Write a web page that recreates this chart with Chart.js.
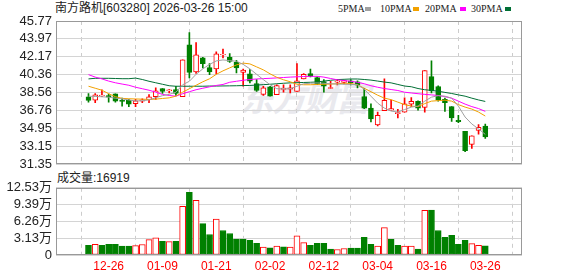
<!DOCTYPE html>
<html>
<head>
<meta charset="utf-8">
<script src="https://cdn.jsdelivr.net/npm/chart.js@4.4.1/dist/chart.umd.min.js"></script>
<style>
  body { margin: 0; background: #fff; width: 578px; height: 276px; overflow: hidden; position: relative;
         font-family: "Liberation Sans", "Noto Sans CJK SC", sans-serif; }
  .txt { position: absolute; white-space: nowrap; color: #222; }
  #title { left: 55px; top: 1px; font-size: 12px; line-height: 14px; }
  #volTitle { left: 57px; top: 171px; font-size: 12px; line-height: 14px; }
  .lg { position: absolute; top: 3px; font-family: "Liberation Serif", serif; font-size: 10px; line-height: 12px; color: #222; }
  .sq { position: absolute; top: 7px; width: 6px; height: 4px; }
  #mark { position: absolute; left: 240px; top: 72px; font-size: 34px; font-weight: bold; font-style: italic;
          color: #e9e9ee; font-family: "Noto Sans CJK SC", sans-serif; letter-spacing: -2px; }
  canvas { position: absolute; left: 0; }
  #priceChart { top: 0; }
  #volChart { top: 176px; }
</style>
</head>
<body>
<div id="mark">东方财富</div>
<div class="txt" id="title">南方路机[603280] 2026-03-26 15:00</div>
<span class="lg" style="left:338px">5PMA</span><span class="sq" style="left:365px;background:#a0a0a0"></span>
<span class="lg" style="left:380px">10PMA</span><span class="sq" style="left:413px;background:#f2a100"></span>
<span class="lg" style="left:425px">20PMA</span><span class="sq" style="left:460px;background:#ff00ff"></span>
<span class="lg" style="left:471px">30PMA</span><span class="sq" style="left:505px;background:#006f35"></span>
<div class="txt" id="volTitle">成交量:16919</div>
<canvas id="priceChart" width="578" height="176"></canvas>
<canvas id="volChart" width="578" height="100"></canvas>
<script>
// trading days shown
const dates = ['12-23','12-24','12-25','12-26','12-29','12-30','12-31','01-05','01-06','01-07',
  '01-08','01-09','01-12','01-13','01-14','01-15','01-16','01-19','01-20','01-21',
  '01-22','01-23','01-26','01-27','01-28','01-29','01-30','02-02','02-03','02-04',
  '02-05','02-06','02-09','02-10','02-11','02-12','02-13','02-24','02-25','02-26',
  '02-27','03-02','03-03','03-04','03-05','03-06','03-09','03-10','03-11','03-12',
  '03-13','03-16','03-17','03-18','03-19','03-20','03-23','03-24','03-25','03-26'];

const openP = [38.14,37.80,38.25,38.27,38.44,37.77,37.77,37.44,37.70,37.84,
  38.14,38.97,38.74,38.87,38.14,43.37,40.63,42.07,41.07,40.94,
  42.35,42.10,41.60,40.60,40.45,39.47,38.37,39.14,38.34,38.87,
  38.90,38.67,39.94,40.47,40.07,39.67,38.97,39.60,39.58,39.74,
  39.64,38.17,37.00,35.30,36.74,36.80,36.44,36.60,37.40,37.67,
  37.07,40.17,39.17,37.87,37.14,35.77,34.67,33.34,34.74,35.20];
const closeP = [37.77,38.34,38.32,38.10,37.70,37.68,37.40,37.74,37.84,38.14,
  38.74,38.67,38.84,38.47,41.86,40.60,42.37,41.47,40.64,42.47,
  42.42,41.70,41.04,40.84,39.70,38.77,39.04,38.20,39.27,39.00,
  39.04,39.74,40.40,40.20,39.44,39.20,39.07,39.74,39.76,39.54,
  39.30,37.00,35.90,36.27,37.77,36.94,36.54,37.44,37.67,37.00,
  40.77,38.74,37.80,37.54,36.00,35.64,32.70,34.20,35.07,34.10];
const highP = [38.47,38.47,38.84,38.40,38.44,38.00,37.87,37.87,37.94,38.37,
  39.04,38.97,38.87,39.20,41.86,44.60,43.60,42.10,41.47,42.67,
  42.95,42.50,41.80,40.94,40.87,39.87,39.20,39.20,39.34,39.34,
  39.34,41.47,40.47,40.94,40.14,39.87,39.70,39.87,39.80,39.87,
  39.74,39.00,37.44,36.60,39.94,37.80,36.87,38.04,38.07,37.74,
  40.77,41.77,39.24,38.00,37.14,36.27,34.67,34.20,35.34,35.40];
const lowP = [37.60,37.54,38.14,37.60,37.60,37.20,37.14,37.14,37.54,37.54,
  37.87,38.47,38.54,38.27,38.14,40.04,40.50,41.04,40.37,40.44,
  42.04,41.60,40.54,39.20,39.54,38.67,38.27,38.20,38.34,38.60,
  38.54,38.67,39.94,40.14,39.37,38.60,38.97,39.34,39.44,39.34,
  39.04,36.94,35.60,35.20,36.74,36.80,36.00,36.60,37.14,36.80,
  36.60,38.54,37.70,36.67,35.67,35.54,32.60,32.94,34.37,33.94];

// volume in 万手
const volume = [1.82,2.00,1.82,2.00,2.00,1.64,1.64,1.76,1.95,2.86,
  3.22,2.55,2.49,2.55,9.06,11.67,10.21,5.84,3.83,6.69,
  4.56,4.01,2.98,2.98,2.74,2.19,1.46,1.34,1.64,1.52,
  1.46,3.59,2.31,1.82,2.19,2.19,1.09,1.03,1.22,1.28,
  1.28,3.28,2.00,1.64,5.10,2.92,1.82,1.64,1.64,1.09,
  8.33,8.39,4.56,3.28,3.65,2.00,2.74,2.13,1.82,1.69];

// moving averages
const ma5 = [38.20,38.17,38.14,38.10,38.00,37.93,37.82,37.72,37.74,37.82,
  38.05,38.25,38.38,38.60,39.35,39.70,40.40,40.95,41.40,41.75,
  41.85,41.78,41.72,41.40,40.95,40.40,39.87,39.35,38.95,38.93,
  38.95,39.20,39.45,39.50,39.53,39.50,39.45,39.42,39.40,39.38,
  39.36,38.90,38.20,37.50,37.00,36.70,36.60,36.85,37.10,37.20,
  37.70,38.10,38.25,38.20,38.00,37.20,36.10,35.40,34.90,34.35];
const ma10 = [39.20,39.00,38.80,38.45,38.15,37.98,37.94,37.92,37.90,37.87,
  37.90,37.97,38.03,38.20,38.60,38.95,39.30,39.65,39.95,40.40,
  40.75,41.05,41.35,41.53,41.45,41.15,40.85,40.45,40.10,39.85,
  39.65,39.40,39.35,39.35,39.38,39.40,39.42,39.45,39.50,39.48,
  39.35,39.00,38.65,38.30,38.00,37.85,37.60,37.35,37.20,37.15,
  37.45,37.70,37.75,37.80,37.70,37.35,37.10,36.90,36.60,36.20];
const ma20 = [40.37,40.12,39.94,39.72,39.55,39.42,39.30,39.10,38.95,38.80,
  38.60,38.38,38.27,38.20,38.45,38.65,38.85,39.00,39.14,39.28,
  39.38,39.60,39.70,39.80,39.88,39.93,39.97,40.00,40.04,40.08,
  40.12,40.15,40.18,40.20,40.20,40.12,39.98,39.85,39.77,39.70,
  39.60,39.45,39.25,39.10,38.97,38.87,38.77,38.60,38.52,38.45,
  38.38,38.33,38.27,38.15,38.00,37.70,37.40,37.15,36.95,36.67];
const ma30 = [39.94,40.00,40.00,40.00,39.98,39.96,39.96,40.02,39.88,39.70,
  39.55,39.40,39.25,39.20,39.20,39.20,39.20,39.20,39.22,39.22,
  39.23,39.24,39.25,39.27,39.28,39.32,39.36,39.40,39.45,39.50,
  39.54,39.56,39.58,39.60,39.63,39.72,39.80,39.87,39.90,39.93,
  39.93,39.88,39.82,39.72,39.62,39.54,39.38,39.22,39.15,38.97,
  38.85,38.78,38.70,38.58,38.47,38.33,38.20,38.00,37.82,37.67];

const priceTicks = [31.35,33.15,34.95,36.76,38.56,40.36,42.17,43.97,45.77];
const volTicks = [0,3.13,6.26,9.39,12.53];
const dateTicks = [3,11,19,27,35,43,51,59];

const RED = '#ff0000', GREEN = '#008000';
const candleUp = closeP.map((c, i) => c >= openP[i]);
const volUp = closeP.map((c, i) => i === 0 ? c >= openP[0] : c >= closeP[i - 1]);

// frame round the plot area
const frame = {
  id: 'frame',
  afterDraw(chart) {
    const a = chart.chartArea, ctx = chart.ctx;
    ctx.save();
    ctx.strokeStyle = '#999';
    ctx.lineWidth = 1;
    ctx.strokeRect(Math.round(a.left) + 0.5, Math.round(a.top) + 0.5,
      Math.round(a.right - a.left) - 1, Math.round(a.bottom - a.top) - 1);
    ctx.restore();
  }
};

function xScale(showLabels) {
  return {
    type: 'linear', min: -0.5, max: 60.13,
    afterBuildTicks: s => { s.ticks = dateTicks.map(v => ({ value: v })); },
    afterFit: s => { s.height = showLabels ? 21 : 0; },
    ticks: {
      display: showLabels, color: RED, padding: 4, maxRotation: 0, autoSkip: false,
      font: { size: 12, family: 'Liberation Sans' },
      callback: v => dates[v]
    },
    grid: { color: '#cccccc', drawTicks: false },
    border: { display: false, dash: [4, 4] }
  };
}

function maLine(data, color) {
  return {
    type: 'line', data: data.map((v, i) => ({ x: i, y: v })),
    borderColor: color, borderWidth: 1, pointRadius: 0, tension: 0, order: 0
  };
}

new Chart(document.getElementById('priceChart'), {
  type: 'bar',
  data: {
    datasets: [
      maLine(ma5, '#a0a0a0'),
      maLine(ma10, '#f2a100'),
      maLine(ma20, '#ff00ff'),
      maLine(ma30, '#006f35'),
      {
        // candle bodies
        data: dates.map((d, i) => ({ x: i, y: [openP[i], closeP[i]] })),
        backgroundColor: candleUp.map(u => u ? '#ffffff' : GREEN),
        borderColor: candleUp.map(u => u ? RED : GREEN),
        borderWidth: 1, borderSkipped: false, barThickness: 5, grouped: false, order: 1
      },
      {
        // wicks
        data: dates.map((d, i) => ({ x: i, y: [lowP[i], highP[i]] })),
        backgroundColor: candleUp.map(u => u ? RED : GREEN),
        barThickness: 1, grouped: false, order: 2
      }
    ]
  },
  options: {
    responsive: false, animation: false, events: [],
    layout: { padding: { top: 21, right: 56, bottom: 11, left: 0 } },
    plugins: { legend: { display: false }, tooltip: { enabled: false } },
    scales: {
      x: xScale(false),
      y: {
        min: 31.35, max: 45.77,
        afterBuildTicks: s => { s.ticks = priceTicks.map(v => ({ value: v })); },
        afterFit: s => { s.width = 56; },
        ticks: { color: '#222', padding: 4, autoSkip: false, font: { size: 13, family: 'Liberation Sans' },
                 callback: v => v.toFixed(2) },
        grid: { color: '#d4d4d4', drawTicks: false },
        border: { display: false }
      }
    }
  },
  plugins: [frame]
});

new Chart(document.getElementById('volChart'), {
  type: 'bar',
  data: {
    datasets: [{
      data: volume.map((v, i) => ({ x: i, y: v })),
      backgroundColor: volUp.map(u => u ? '#ffffff' : GREEN),
      borderColor: volUp.map(u => u ? RED : GREEN),
      borderWidth: 1, borderSkipped: false, barThickness: 6
    }]
  },
  options: {
    responsive: false, animation: false, events: [],
    layout: { padding: { top: 10, right: 56, bottom: 0, left: 0 } },
    plugins: { legend: { display: false }, tooltip: { enabled: false } },
    scales: {
      x: xScale(true),
      y: {
        min: 0, max: 12.53,
        afterBuildTicks: s => { s.ticks = volTicks.map(v => ({ value: v })); },
        afterFit: s => { s.width = 56; },
        ticks: { color: '#222', padding: 4, autoSkip: false, font: { size: 13, family: 'Liberation Sans, Noto Sans CJK SC' },
                 callback: v => v === 0 ? '0' : v.toFixed(2) + '万' },
        grid: { color: '#d4d4d4', drawTicks: false },
        border: { display: false }
      }
    }
  },
  plugins: [frame]
});
</script>
</body>
</html>
